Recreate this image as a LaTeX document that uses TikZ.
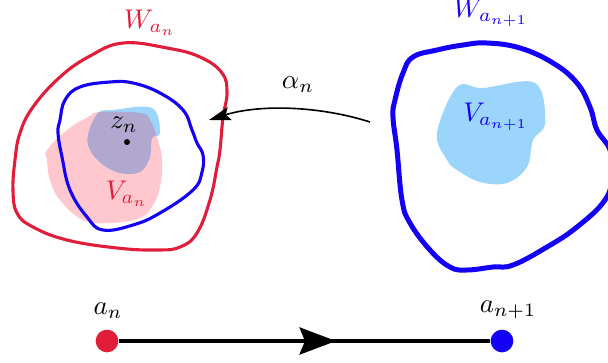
\documentclass[tikz,border=0pt]{standalone}
\usetikzlibrary{arrows.meta,decorations.markings}
\definecolor{wred}{RGB}{224,30,58}
\definecolor{wblue}{RGB}{20,0,245}
\definecolor{vpink}{RGB}{255,200,207}
\definecolor{vblue}{RGB}{155,213,252}
\definecolor{vpurple}{RGB}{176,168,206}
\tikzset{
  redloop/.style={draw=wred,line width=1.15pt},
  innerloop/.style={draw=wblue,line width=1.15pt},
  bigloop/.style={draw=wblue,line width=1.85pt},
  dotnode/.style={circle,inner sep=0pt,minimum size=8.4pt},
  lbl/.style={inner sep=1pt},
}
\begin{document}
\begin{tikzpicture}[x=0.37pt,y=-0.37pt]
\useasboundingbox (0,0) rectangle (608,362);
% pink blob V_{a_n}
\def\pinkblob{plot[smooth cycle,tension=0.7] coordinates{(47,150) (67,130) (88,117) (100,112) (140,113) (150,120) (157,137) (162,160) (160,187) (153,205) (140,218) (110,223) (83,220) (60,200) (50,180) (47,160)}}
\def\blueblob{plot[smooth cycle,tension=0.6] coordinates{(98,113) (113,110) (152,108) (160,133) (152,138) (150,157) (140,172) (120,173) (102,164) (90,150) (88,135)}}
\fill[vpink] \pinkblob;
\fill[vblue] \blueblob;
\begin{scope}
  \clip \pinkblob;
  \fill[vpurple] \blueblob;
\end{scope}
% outer red loop
\draw[redloop] plot[smooth cycle,tension=0.7] coordinates{(123,43) (167,48) (200,57) (222,73) (227,93) (223,117) (220,150) (217,167) (210,200) (197,233) (180,247) (157,250) (117,248) (67,240) (33,227) (17,213) (13,190) (15,160) (20,133) (33,107) (60,77) (90,56)};
% inner blue loop
\draw[innerloop] plot[smooth cycle,tension=0.7] coordinates{(110,82) (133,83) (160,93) (183,110) (192,130) (197,143) (203,155) (202,172) (193,190) (160,213) (133,225) (103,230) (87,217) (70,190) (62,157) (58,133) (60,120) (65,100) (80,87)};
% right light blue blob
\fill[vblue] plot[smooth cycle,tension=0.6] coordinates{(457,87) (483,88) (535,83) (545,123) (533,140) (527,167) (507,183) (480,182) (457,170) (447,160) (437,133)};
% right big loop
\draw[bigloop] plot[smooth cycle,tension=0.7] coordinates{(487,43) (520,48) (553,63) (577,83) (590,107) (597,130) (610,150) (612,175) (605,200) (577,227) (547,247) (513,265) (493,267) (467,270) (450,267) (430,250) (410,223) (402,200) (397,150) (393,117) (395,100) (403,73) (413,57) (437,50) (463,45)};
% labels
\node[lbl,text=wred] (Wan) at (150,23) {$W_{a_n}$};
\node[lbl,text=wblue] (Wan1) at (491,13) {$W_{a_{n+1}}$};
\node[lbl,text=wblue] (Van1) at (496,117) {$V_{a_{n+1}}$};
\node[lbl,text=wred] (Van) at (127,194) {$V_{a_n}$};
\node[lbl] (zn) at (124,125) {$z_n$};
\node[circle,fill=black,inner sep=0pt,minimum size=2.2pt] (zdot) at (127,142) {};
% alpha arrow
\coordinate (as) at (370,122);
\coordinate (ae) at (209,120);
\node[lbl] (alpha) at (298,85) {$\alpha_n$};
\draw[line width=0.6pt,-{Stealth[length=8pt,width=5pt,inset=1.5pt]}] (as) .. controls (320,106) and (260,104) .. (ae);
% bottom
\node[dotnode,fill=wred] (an) at (107,341) {};
\node[dotnode,fill=wblue] (an1) at (502,341) {};
\node[lbl] (lan) at (108,311) {$a_n$};
\node[lbl] (lan1) at (508,310) {$a_{n+1}$};
\draw[line width=1.4pt,decoration={markings,mark=at position 0.585 with {\arrow{Stealth[length=13.5pt,width=10pt,inset=2pt]}}},postaction={decorate}] (an) -- (an1);
\end{tikzpicture}
\end{document}
